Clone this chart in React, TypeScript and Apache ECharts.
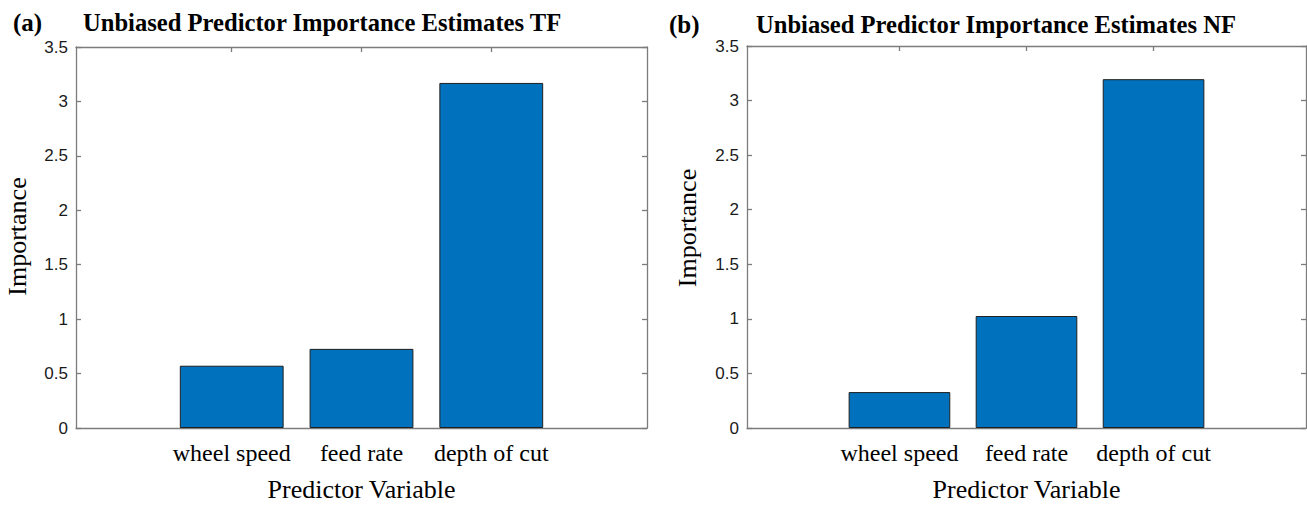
import React, { useEffect, useRef } from "react";
import * as echarts from "echarts";

// Predictor names and their positions along the x axis
const categories = ["wheel speed", "feed rate", "depth of cut"];
const positions = [1, 2, 3];

// Unbiased importance estimates for each predictor
const importanceTF = [0.572, 0.727, 3.17];
const importanceNF = [0.329, 1.026, 3.196];

const yMin = 0;
const yMax = 3.5;
const yStep = 0.5;
const xMin = -0.2;
const xMax = 4.2;

const panelLabels = ["(a)", "(b)"];
const panelTitles = [
  "Unbiased Predictor Importance Estimates TF",
  "Unbiased Predictor Importance Estimates NF",
];
const xAxisTitle = "Predictor Variable";
const yAxisTitle = "Importance";

const AXIS_GRAY = "#7c7c7c";
const BAR_BLUE = "#0072BD";
const SERIF = "Liberation Serif";
const SANS = "Liberation Sans";

const grids = [
  { left: 76, top: 47, width: 571, height: 390 },
  { left: 747, top: 46, width: 559, height: 382 },
];

// per-panel placement of the header texts and axis titles
const layout = [
  { labelX: 13, titleX: 83, headY: 22, xNameGap: 48, yNameGap: 46, yNameShift: 2 },
  { labelX: 669, titleX: 756, headY: 24, xNameGap: 48, yNameGap: 47, yNameShift: 18 },
];

function buildOption() {
  const xAxis: any[] = [];
  const yAxis: any[] = [];
  const series: any[] = [];
  const graphic: any[] = [];
  const values = [importanceTF, importanceNF];

  grids.forEach((g, i) => {
    const L = layout[i];
    const lineStyle = { color: AXIS_GRAY, width: 1.3 };
    xAxis.push({
      type: "value",
      gridIndex: i,
      position: "bottom",
      min: xMin,
      max: xMax,
      axisLine: { show: true, onZero: false, lineStyle },
      axisTick: { show: true, inside: true, length: 5, customValues: positions, lineStyle },
      axisLabel: {
        show: true,
        customValues: positions,
        formatter: (v: number) => categories[positions.indexOf(v)] ?? "",
        fontFamily: SERIF,
        fontSize: 24,
        color: "#000",
        margin: 13,
      },
      splitLine: { show: false },
      name: xAxisTitle,
      nameLocation: "middle",
      nameGap: L.xNameGap,
      nameTextStyle: { fontFamily: SERIF, fontSize: 26, color: "#000" },
    });
    xAxis.push({
      type: "value",
      gridIndex: i,
      position: "top",
      min: xMin,
      max: xMax,
      axisLine: { show: true, onZero: false, lineStyle },
      axisTick: { show: true, inside: true, length: 5, customValues: positions, lineStyle },
      axisLabel: { show: false },
      splitLine: { show: false },
    });
    yAxis.push({
      type: "value",
      gridIndex: i,
      position: "left",
      min: yMin,
      max: yMax,
      interval: yStep,
      axisLine: { show: true, onZero: false, lineStyle },
      axisTick: { show: true, inside: true, length: 5, lineStyle },
      axisLabel: { fontFamily: SANS, fontSize: 17, color: "#1a1a1a", margin: 8 },
      splitLine: { show: false },
      name: yAxisTitle,
      nameLocation: "middle",
      nameGap: L.yNameGap,
      nameTextStyle: {
        fontFamily: SERIF,
        fontSize: 26,
        color: "#000",
        padding: [0, 0, 0, L.yNameShift],
      },
    });
    yAxis.push({
      type: "value",
      gridIndex: i,
      position: "right",
      min: yMin,
      max: yMax,
      interval: yStep,
      axisLine: { show: true, onZero: false, lineStyle },
      axisTick: { show: true, inside: true, length: 5, lineStyle },
      axisLabel: { show: false },
      splitLine: { show: false },
    });
    series.push({
      type: "bar",
      xAxisIndex: 2 * i,
      yAxisIndex: 2 * i,
      barWidth: (g.width / (xMax - xMin)) * 0.8,
      data: positions.map((p, k) => [p, values[i][k]]),
      itemStyle: { color: BAR_BLUE, borderColor: "#1f1f1f", borderWidth: 1 },
    });
    graphic.push({
      type: "text",
      x: L.labelX,
      y: L.headY,
      style: {
        text: panelLabels[i],
        font: `bold 25px ${SERIF}`,
        fill: "#000",
        verticalAlign: "middle",
      },
    });
    graphic.push({
      type: "text",
      x: L.titleX,
      y: L.headY,
      style: {
        text: panelTitles[i],
        font: `bold 24.6px ${SERIF}`,
        fill: "#000",
        verticalAlign: "middle",
      },
    });
  });

  return {
    animation: false,
    backgroundColor: "#fff",
    grid: grids.map((g) => ({ ...g, containLabel: false })),
    xAxis,
    yAxis,
    series,
    graphic,
  };
}

export default function App() {
  const ref = useRef<HTMLDivElement>(null);
  useEffect(() => {
    document.body.style.margin = "0";
    if (!ref.current) return;
    const chart = echarts.init(ref.current, undefined, { renderer: "svg" });
    chart.setOption(buildOption());
    return () => chart.dispose();
  }, []);
  return <div ref={ref} style={{ width: 1307, height: 507 }} />;
}
